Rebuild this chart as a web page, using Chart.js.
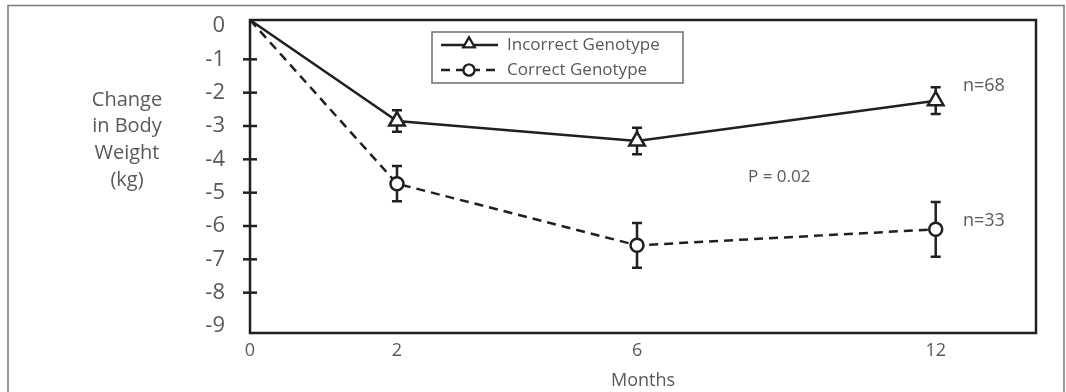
<!DOCTYPE html>
<html>
<head>
<meta charset="utf-8">
<script src="https://cdn.jsdelivr.net/npm/chart.js@4.4.1/dist/chart.umd.min.js"></script>
<style>
  html, body { margin: 0; padding: 0; background: #fff; }
  #wrap { width: 1066px; height: 392px; position: relative; }
</style>
</head>
<body>
<div id="wrap"><canvas id="c" width="1066" height="392"></canvas></div>
<script>
// ---- data ----
const months = [0, 2, 6, 12];
const monthLabels = ['0', '2', '6', '12'];
const yTickValues = [0, -1, -2, -3, -4, -5, -6, -7, -8, -9];
const incorrectGenotype = [0.18, -2.85, -3.45, -2.24];
const incorrectErr = [0, 0.32, 0.40, 0.40];
const correctGenotype = [0.18, -4.73, -6.58, -6.10];
const correctErr = [0, 0.53, 0.67, 0.82];
const seriesNames = ['Incorrect Genotype', 'Correct Genotype'];
const sampleSizes = ['n=68', 'n=33'];
const pValueText = 'P = 0.02';
const yTitleLines = ['Change', 'in Body', 'Weight', '(kg)'];
const xTitle = 'Months';

const INK = '#231f20';
const TEXT = '#58595b';
const FONT = '"Open Sans", "Noto Sans", sans-serif';

// piecewise x scale (the original's month axis is not evenly spaced)
class PiecewiseScale extends Chart.LinearScale {
  _frac(v) {
    const a = this.options.anchors;
    if (v <= a[0][0]) return a[0][1];
    for (let i = 1; i < a.length; i++) {
      if (v <= a[i][0]) {
        const t = (v - a[i-1][0]) / (a[i][0] - a[i-1][0]);
        return a[i-1][1] + t * (a[i][1] - a[i-1][1]);
      }
    }
    return a[a.length-1][1];
  }
  getPixelForValue(v) {
    return this.left + this._frac(v) * this.width;
  }
  getValueForPixel(p) {
    const f = (p - this.left) / this.width;
    const a = this.options.anchors;
    for (let i = 1; i < a.length; i++) {
      if (f <= a[i][1]) {
        const t = (f - a[i-1][1]) / (a[i][1] - a[i-1][1]);
        return a[i-1][0] + t * (a[i][0] - a[i-1][0]);
      }
    }
    return a[a.length-1][0];
  }
}
PiecewiseScale.id = 'piecewise';
PiecewiseScale.defaults = Chart.LinearScale.defaults;
Chart.register(PiecewiseScale);

const errs = [incorrectErr, correctErr];

const decor = {
  id: 'decor',
  beforeDraw(chart) {
    const ctx = chart.ctx;
    ctx.save();
    ctx.fillStyle = '#fff';
    ctx.fillRect(0, 0, chart.width, chart.height);
    ctx.strokeStyle = '#7a7a7a';
    ctx.lineWidth = 1.5;
    ctx.strokeRect(8, 5.5, 1056, 420);
    ctx.restore();
  },
  beforeDatasetsDraw(chart) {
    const ctx = chart.ctx;
    const a = chart.chartArea;
    const ys = chart.scales.y;
    ctx.save();
    // plot box
    ctx.strokeStyle = INK;
    ctx.lineWidth = 2.5;
    ctx.strokeRect(a.left, a.top, a.right - a.left, a.bottom - a.top);
    // y tick marks crossing the axis
    yTickValues.forEach(v => {
      if (v === 0 || v === -9) return;
      const y = ys.getPixelForValue(v);
      ctx.beginPath();
      ctx.moveTo(a.left - 7, y);
      ctx.lineTo(a.left + 7, y);
      ctx.stroke();
    });
    // error bars
    chart.data.datasets.forEach((ds, i) => {
      const meta = chart.getDatasetMeta(i);
      ds.data.forEach((v, j) => {
        const e = errs[i][j];
        if (!e) return;
        const x = meta.data[j].x;
        const y1 = ys.getPixelForValue(v + e);
        const y2 = ys.getPixelForValue(v - e);
        ctx.lineWidth = 2.5;
        ctx.setLineDash([]);
        ctx.beginPath();
        ctx.moveTo(x, y1); ctx.lineTo(x, y2);
        ctx.moveTo(x - 5, y1); ctx.lineTo(x + 5, y1);
        ctx.moveTo(x - 5, y2); ctx.lineTo(x + 5, y2);
        ctx.stroke();
      });
    });
    ctx.restore();
  },
  afterDraw(chart) {
    const ctx = chart.ctx;
    ctx.save();
    ctx.fillStyle = TEXT;
    // y title
    ctx.font = '20px ' + FONT;
    ctx.textAlign = 'center';
    ctx.textBaseline = 'middle';
    yTitleLines.forEach((t, i) => ctx.fillText(t, 127, 100 + i * 26.7));
    // annotations
    ctx.font = '18px ' + FONT;
    ctx.textAlign = 'left';
    ctx.fillText(sampleSizes[0], 963, 86);
    ctx.fillText(sampleSizes[1], 963, 221);
    ctx.font = '17px ' + FONT;
    ctx.fillText(pValueText, 748, 177);
    // legend
    ctx.strokeStyle = '#6d6e71';
    ctx.lineWidth = 1.5;
    ctx.strokeRect(432, 32, 251, 51);
    const rows = [45, 70];
    chart.data.datasets.forEach((ds, i) => {
      const y = rows[i];
      ctx.strokeStyle = INK;
      ctx.lineWidth = 2.5;
      ctx.setLineDash(ds.borderDash || []);
      ctx.beginPath();
      ctx.moveTo(441, y); ctx.lineTo(498, y);
      ctx.stroke();
      ctx.setLineDash([]);
      ctx.fillStyle = '#fff';
      ctx.lineWidth = 2.2;
      Chart.helpers.drawPoint(ctx, {pointStyle: ds.pointStyle, radius: i === 0 ? 6.5 : 5.5, borderWidth: 2.2}, 469, i === 0 ? y - 1 : y);
      ctx.fill(); ctx.stroke();
      ctx.fillStyle = TEXT;
      ctx.font = '17px ' + FONT;
      ctx.textAlign = 'left';
      ctx.textBaseline = 'middle';
      ctx.fillText(ds.label, 507, y);
    });
    ctx.restore();
  }
};

new Chart(document.getElementById('c'), {
  type: 'line',
  data: {
    datasets: [
      {
        label: seriesNames[0],
        data: incorrectGenotype,
        borderColor: INK,
        borderWidth: 2.5,
        pointStyle: 'triangle',
        pointRadius: [0, 9, 9, 9],
        pointBorderWidth: 2.5,
        pointBackgroundColor: '#fff',
        pointBorderColor: INK,
        tension: 0
      },
      {
        label: seriesNames[1],
        data: correctGenotype,
        borderColor: INK,
        borderWidth: 2.5,
        borderDash: [9, 6],
        pointStyle: 'circle',
        pointRadius: [0, 6.5, 6.5, 6.5],
        pointBorderWidth: 2.5,
        pointBackgroundColor: '#fff',
        pointBorderColor: INK,
        tension: 0
      }
    ],
    labels: months
  },
  options: {
    responsive: false,
    animation: false,
    layout: { padding: { left: 0, top: 20, right: 30, bottom: 0 } },
    plugins: { legend: { display: false }, tooltip: { enabled: false } },
    scales: {
      x: {
        type: 'piecewise',
        min: 0,
        max: 14,
        anchors: [[0, 0], [2, 0.187], [6, 0.4924], [12, 0.8724], [14, 1]],
        afterBuildTicks(s) { s.ticks = months.map(v => ({ value: v })); },
        afterFit(s) { s.height = 59; },
        grid: { display: false, drawTicks: false },
        border: { display: false },
        ticks: {
          padding: 7,
          color: TEXT,
          font: { family: FONT, size: 18 },
          maxRotation: 0,
          autoSkip: false,
          callback: (v) => monthLabels[months.indexOf(v)]
        },
        title: {
          display: true,
          text: xTitle,
          color: TEXT,
          font: { family: FONT, size: 18 },
          padding: { top: 0, bottom: 0 }
        }
      },
      y: {
        type: 'linear',
        min: -9.21,
        max: 0.18,
        afterBuildTicks(s) { s.ticks = yTickValues.map(v => ({ value: v })); },
        afterFit(s) { s.width = 250; s.paddingTop = 0; s.paddingBottom = 0; },
        grid: { display: false, drawTicks: false },
        border: { display: false },
        ticks: {
          padding: 25,
          color: TEXT,
          font: { family: FONT, size: 22 },
          callback: (v) => String(v)
        }
      }
    }
  },
  plugins: [decor]
});
</script>
</body>
</html>
